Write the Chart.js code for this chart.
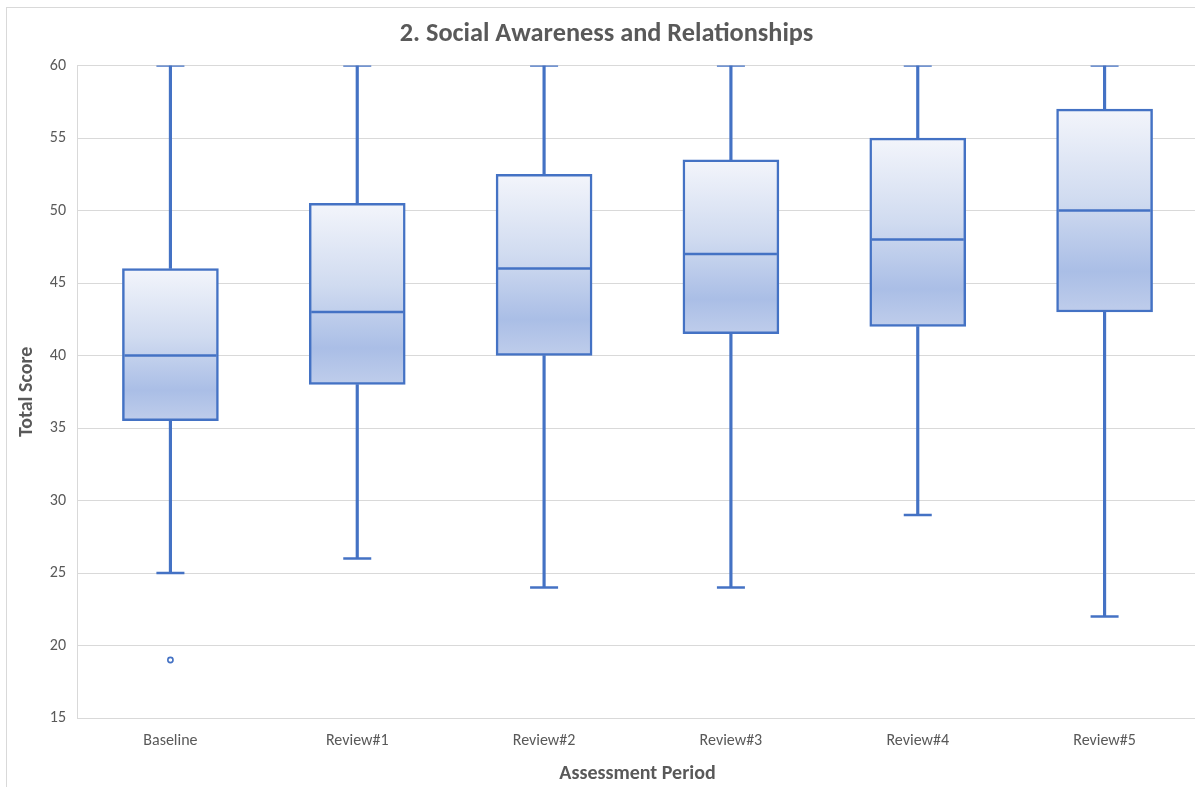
<!DOCTYPE html>
<html>
<head>
<meta charset="utf-8">
<title>2. Social Awareness and Relationships</title>
<script src="https://cdn.jsdelivr.net/npm/chart.js@4/dist/chart.umd.min.js"></script>
<style>
  html, body { margin: 0; padding: 0; background: #ffffff; overflow: hidden; }
  #wrap { position: relative; width: 1212px; height: 787px; }
</style>
</head>
<body>
<div id="wrap"><canvas id="chart" width="1212" height="787"></canvas></div>
<script>
// Five-number summaries per assessment period
const categories = ['Baseline', 'Review#1', 'Review#2', 'Review#3', 'Review#4', 'Review#5'];
const minVals    = [25, 26, 24, 24, 29, 22];
const q1Vals     = [35.5, 38, 40, 41.5, 42, 43];
const medianVals = [40, 43, 46, 47, 48, 50];
const q3Vals     = [46, 50.5, 52.5, 53.5, 55, 57];
const maxVals    = [60, 60, 60, 60, 60, 60];
const outlierVals = [19, null, null, null, null, null];
const yTicks = [15, 20, 25, 30, 35, 40, 45, 50, 55, 60];

const BLUE = '#4472C4';
const TEXT = '#595959';
const GRID = '#d9d9d9';
const FONT = "Carlito, Lato, 'Open Sans', sans-serif";

const lowWhiskers  = categories.map((_, i) => [minVals[i], q1Vals[i]]);
const highWhiskers = categories.map((_, i) => [q3Vals[i], maxVals[i]]);
const boxes        = categories.map((_, i) => [q1Vals[i], q3Vals[i]]);

// Vertical gradient spanning each box from Q3 down to Q1
function boxFill(ctx) {
  const chart = ctx.chart;
  const y = chart.scales && chart.scales.y;
  if (!chart.chartArea || !y || ctx.dataIndex === undefined) return '#c9d6ef';
  const i = ctx.dataIndex;
  const top = y.getPixelForValue(q3Vals[i]);
  const bottom = y.getPixelForValue(q1Vals[i]);
  const g = chart.ctx.createLinearGradient(0, top, 0, bottom);
  g.addColorStop(0, '#f3f5fb');
  g.addColorStop(0.45, '#d0dbf0');
  g.addColorStop(0.8, '#aabee6');
  g.addColorStop(1, '#bfcdeb');
  return g;
}

// White page plus the thin frame round the chart
const frame = {
  id: 'frame',
  beforeDraw(chart) {
    const c = chart.ctx;
    c.save();
    c.fillStyle = '#ffffff';
    c.fillRect(0, 0, chart.width, chart.height);
    c.strokeStyle = GRID;
    c.lineWidth = 1;
    c.strokeRect(6.5, 7.5, chart.width + 20, chart.height + 20);
    c.restore();
  }
};

new Chart(document.getElementById('chart'), {
  data: {
    labels: categories,
    datasets: [
      { type: 'bar', data: lowWhiskers, backgroundColor: BLUE, barThickness: 2.5, grouped: false, order: 5 },
      { type: 'bar', data: highWhiskers, backgroundColor: BLUE, barThickness: 2.5, grouped: false, order: 5 },
      { type: 'bar', data: boxes, backgroundColor: boxFill, borderColor: BLUE, borderWidth: 2.5,
        borderSkipped: false, barThickness: 96, grouped: false, order: 4 },
      { type: 'line', data: medianVals, showLine: false, pointStyle: 'line', pointRadius: 46,
        pointBorderWidth: 2.5, borderColor: BLUE, order: 3 },
      { type: 'line', data: maxVals, showLine: false, pointStyle: 'line', pointRadius: 14,
        pointBorderWidth: 2.5, borderColor: BLUE, order: 2 },
      { type: 'line', data: minVals, showLine: false, pointStyle: 'line', pointRadius: 14,
        pointBorderWidth: 2.5, borderColor: BLUE, order: 2 },
      { type: 'line', data: outlierVals, showLine: false, pointStyle: 'circle', pointRadius: 2.6,
        pointBorderWidth: 1.6, borderColor: BLUE, pointBackgroundColor: '#ffffff', order: 1 }
    ]
  },
  options: {
    responsive: false,
    animation: false,
    events: [],
    layout: { autoPadding: false, padding: { left: 15, right: 14, top: 0, bottom: 0 } },
    plugins: {
      legend: { display: false },
      tooltip: { enabled: false },
      title: {
        display: true,
        text: '2. Social Awareness and Relationships',
        color: TEXT,
        font: { family: FONT, size: 26.3, weight: 'bold' },
        padding: { top: 19, bottom: 15 }
      }
    },
    scales: {
      x: {
        type: 'category',
        offset: true,
        grid: { display: false, drawTicks: false },
        border: { display: true, color: GRID, width: 1 },
        ticks: { color: TEXT, font: { family: FONT, size: 16 }, padding: 13, maxRotation: 0 },
        title: {
          display: true, text: 'Assessment Period', color: TEXT,
          font: { family: FONT, size: 20, weight: 'bold' }, padding: { top: 0, bottom: 1 }
        },
        afterFit(scale) {
          scale.height = 69;
          scale.paddingLeft = 0;
          scale.paddingRight = 0;
        }
      },
      y: {
        min: 15, max: 60,
        afterBuildTicks(scale) { scale.ticks = yTicks.map(v => ({ value: v })); },
        grid: { color: GRID, lineWidth: 1, drawTicks: false },
        border: { display: true, color: GRID, width: 1 },
        ticks: { color: TEXT, font: { family: FONT, size: 16 }, padding: 11 },
        title: {
          display: true, text: 'Total Score', color: TEXT,
          font: { family: FONT, size: 20, weight: 'bold' }, padding: { top: 0, bottom: 0 }
        },
        afterFit(scale) { scale.width = 62; }
      }
    }
  },
  plugins: [frame]
});
</script>
</body>
</html>
